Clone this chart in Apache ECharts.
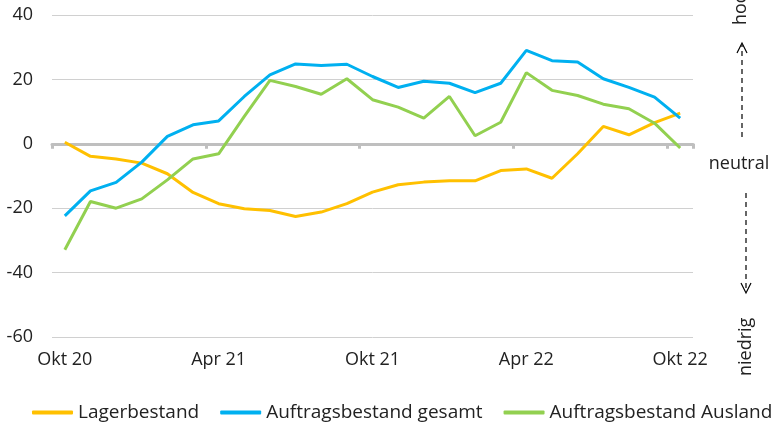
<!DOCTYPE html>
<html>
<head>
<meta charset="utf-8">
<script src="https://cdn.jsdelivr.net/npm/echarts@6/dist/echarts.min.js"></script>
<style>
  html, body { margin: 0; padding: 0; background: #fff; }
  #chart { width: 775px; height: 426px; }
</style>
</head>
<body>
<div id="chart"></div>
<script>
// Monate Okt 20 .. Okt 22
const months = ['Okt 20', 'Nov 20', 'Dez 20', 'Jan 21', 'Feb 21', 'Mär 21', 'Apr 21', 'Mai 21', 'Jun 21',
  'Jul 21', 'Aug 21', 'Sep 21', 'Okt 21', 'Nov 21', 'Dez 21', 'Jan 22', 'Feb 22', 'Mär 22', 'Apr 22',
  'Mai 22', 'Jun 22', 'Jul 22', 'Aug 22', 'Sep 22', 'Okt 22'];

const lagerbestand = [0.5, -3.9, -4.7, -6.0, -9.3, -15.1, -18.6, -20.2, -20.7, -22.6, -21.2, -18.6, -15.0,
  -12.7, -11.9, -11.5, -11.5, -8.3, -7.8, -10.7, -3.1, 5.4, 2.8, 6.6, 9.5];

const auftragGesamt = [-22.4, -14.6, -12.0, -5.7, 2.3, 5.9, 7.1, 14.7, 21.4, 24.8, 24.3, 24.7, 20.9,
  17.5, 19.4, 18.8, 15.9, 18.8, 29.0, 25.8, 25.4, 20.2, 17.5, 14.5, 8.0];

const auftragAusland = [-32.9, -17.9, -20.0, -17.1, -11.2, -4.7, -3.1, 8.5, 19.7, 17.8, 15.4, 20.2, 13.7,
  11.4, 8.0, 14.7, 2.5, 6.7, 22.1, 16.6, 15.0, 12.3, 10.9, 6.4, -1.3];

const fontFamily = '"Open Sans", "Noto Sans", sans-serif';
const fontSize = 18;
const textColor = '#222';

const myChart = echarts.init(document.getElementById('chart'));

const option = {
  animation: false,
  textStyle: { fontFamily: fontFamily },
  grid: { left: 52, right: 82, top: 15, bottom: 89 },
  legend: {
    bottom: 4,
    left: 32,
    width: 743,
    padding: 0,
    itemWidth: 41,
    itemHeight: 4,
    itemGap: 21,
    icon: 'roundRect',
    textStyle: { fontSize: 19, color: textColor, fontFamily: fontFamily },
    data: ['Lagerbestand', 'Auftragsbestand gesamt', 'Auftragsbestand Ausland']
  },
  xAxis: [
    {
      type: 'category',
      data: months,
      boundaryGap: true,
      axisLine: { show: false, onZero: false },
      axisTick: { show: false },
      axisLabel: { interval: 5, fontSize: fontSize, color: textColor, margin: 14 }
    },
    {
      type: 'category',
      data: months,
      boundaryGap: true,
      position: 'bottom',
      axisLine: { show: true, onZero: true, lineStyle: { color: '#bfbfbf', width: 3 } },
      axisTick: { show: true, interval: 5, length: 5, lineStyle: { color: '#bfbfbf', width: 3 } },
      axisLabel: { show: false }
    }
  ],
  yAxis: {
    type: 'value',
    min: -60,
    max: 40,
    interval: 20,
    axisLine: { show: false },
    axisTick: { show: false },
    axisLabel: { fontSize: fontSize, color: textColor, margin: 19 },
    splitLine: { lineStyle: { color: '#d0d0d0', width: 1 } }
  },
  series: [
    {
      name: 'Lagerbestand',
      type: 'line',
      data: lagerbestand,
      symbol: 'none',
      color: '#FFC000',
      lineStyle: { width: 3 },
      z: 3
    },
    {
      name: 'Auftragsbestand gesamt',
      type: 'line',
      data: auftragGesamt,
      symbol: 'none',
      color: '#00B0F0',
      lineStyle: { width: 3 },
      z: 4
    },
    {
      name: 'Auftragsbestand Ausland',
      type: 'line',
      data: auftragAusland,
      symbol: 'none',
      color: '#92D050',
      lineStyle: { width: 3 },
      z: 5
    }
  ],
  graphic: [
    {
      type: 'text', x: 741, y: 25, rotation: Math.PI / 2,
      style: { text: 'hoch', fill: textColor, font: fontSize + 'px ' + fontFamily, textAlign: 'left', textVerticalAlign: 'middle' }
    },
    {
      type: 'polyline',
      shape: { points: [[742, 137], [742, 45]] },
      style: { stroke: '#000', lineWidth: 1.2, lineDash: [5, 4], fill: null }
    },
    {
      type: 'polyline',
      shape: { points: [[737, 53], [742, 43], [747, 53]] },
      style: { stroke: '#000', lineWidth: 1.2, fill: null }
    },
    {
      type: 'text', x: 739, y: 164,
      style: { text: 'neutral', fill: textColor, font: fontSize + 'px ' + fontFamily, textAlign: 'center', textVerticalAlign: 'middle' }
    },
    {
      type: 'polyline',
      shape: { points: [[746, 193], [746, 291]] },
      style: { stroke: '#000', lineWidth: 1.2, lineDash: [5, 4], fill: null }
    },
    {
      type: 'polyline',
      shape: { points: [[741, 283], [746, 293], [751, 283]] },
      style: { stroke: '#000', lineWidth: 1.2, fill: null }
    },
    {
      type: 'text', x: 746, y: 376, rotation: Math.PI / 2,
      style: { text: 'niedrig', fill: textColor, font: fontSize + 'px ' + fontFamily, textAlign: 'left', textVerticalAlign: 'middle' }
    }
  ]
};

myChart.setOption(option);
</script>
</body>
</html>
